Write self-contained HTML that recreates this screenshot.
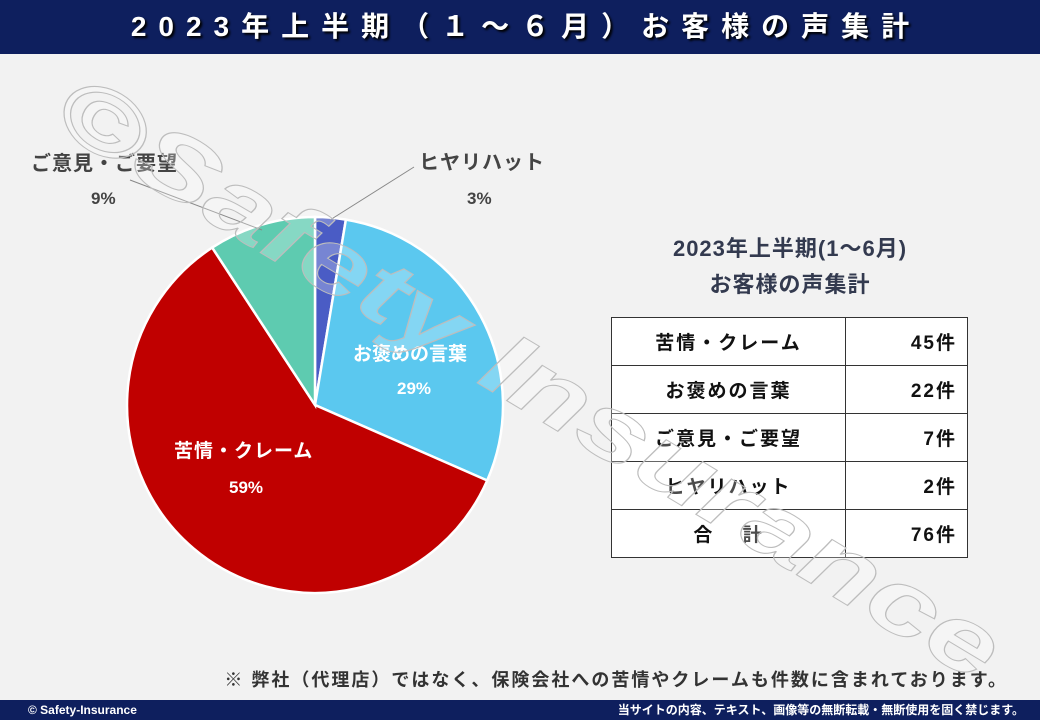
<!DOCTYPE html>
<html><head><meta charset="utf-8"><style>
html,body{margin:0;padding:0}
body{width:1040px;height:720px;background:#f2f2f2;position:relative;overflow:hidden;font-family:"Liberation Sans","Noto Sans CJK JP",sans-serif}
.hdr{position:absolute;left:0;top:0;width:1040px;height:54px;background:#0e1f5e;color:#fff;font-weight:bold;font-size:28px;letter-spacing:12px;text-indent:12px;text-align:center;line-height:54px;text-shadow:2px 2px 2px #000}
.ftr{position:absolute;left:0;top:700px;width:1040px;height:20px;background:#0e1f5e;color:#fff;font-weight:bold;font-size:12px;line-height:20px}
.t{position:absolute;font-weight:bold;white-space:nowrap}
table{position:absolute;left:611px;top:317px;border-collapse:collapse;background:#fff}
td{border:1.5px solid #333;height:47px;font-weight:bold;font-size:19px;color:#111;padding:0;letter-spacing:2px}
td.a{width:233px;text-align:center}
td.b{width:122px;text-align:right;padding-right:10px;box-sizing:border-box}
</style></head><body>
<div class="hdr">2023年上半期（１～６月）お客様の声集計</div>
<svg width="1040" height="720" style="position:absolute;left:0;top:0">
<g stroke="#fff" stroke-width="2.5">
<path d="M315,405 L315,217 A188,188 0 0 1 345.9,219.6 Z" fill="#4a5cc5"/>
<path d="M315,405 L345.9,219.6 A188,188 0 0 1 487.2,480.5 Z" fill="#5bc8ef"/>
<path d="M315,405 L487.2,480.5 A188,188 0 1 1 212.2,247.6 Z" fill="#c00000"/>
<path d="M315,405 L212.2,247.6 A188,188 0 0 1 315,217 Z" fill="#5ecbb0"/>
</g>
<line x1="130" y1="180" x2="262" y2="230" stroke="#888" stroke-width="1"/>
<line x1="414" y1="167" x2="330" y2="220" stroke="#888" stroke-width="1"/>
</svg>
<div class="t" style="left:31px;top:147px;font-size:20px;letter-spacing:1px;color:#444">ご意見・ご要望</div>
<div class="t" style="left:91px;top:189px;font-size:17px;color:#444">9%</div>
<div class="t" style="left:419px;top:146px;font-size:20px;letter-spacing:1px;color:#444">ヒヤリハット</div>
<div class="t" style="left:467px;top:189px;font-size:17px;color:#444">3%</div>
<div class="t" style="left:353px;top:339px;font-size:19px;color:#fff">お褒めの言葉</div>
<div class="t" style="left:397px;top:379px;font-size:17px;color:#fff">29%</div>
<div class="t" style="left:174px;top:436px;font-size:19px;letter-spacing:1px;color:#fff">苦情・クレーム</div>
<div class="t" style="left:229px;top:478px;font-size:17px;color:#fff">59%</div>
<div class="t" style="left:610px;top:231px;width:360px;text-align:center;font-size:22px;letter-spacing:1px;color:#333a4f;line-height:36px">2023年上半期(1～6月)<br>お客様の声集計</div>
<table>
<tr><td class="a">苦情・クレーム</td><td class="b">45件</td></tr>
<tr><td class="a">お褒めの言葉</td><td class="b">22件</td></tr>
<tr><td class="a">ご意見・ご要望</td><td class="b">7件</td></tr>
<tr><td class="a">ヒヤリハット</td><td class="b">2件</td></tr>
<tr><td class="a">合　 計</td><td class="b">76件</td></tr>
</table>
<div class="t" style="right:32px;top:666px;font-size:18px;letter-spacing:2px;color:#333">※ 弊社（代理店）ではなく、保険会社への苦情やクレームも件数に含まれております。</div>
<svg width="1040" height="720" style="position:absolute;left:0;top:0">
<text x="0" y="0" transform="translate(48,125) rotate(31)" font-family="Liberation Sans, sans-serif" font-weight="bold" font-style="italic" font-size="92" fill="rgba(255,255,255,0.25)" stroke="#bdbdbd" stroke-width="1" textLength="1085" lengthAdjust="spacingAndGlyphs">©Safety Insurance</text>
</svg>
<div class="ftr"><span style="position:absolute;left:28px">© Safety-Insurance</span><span style="position:absolute;right:16px">当サイトの内容、テキスト、画像等の無断転載・無断使用を固く禁じます。</span></div>
</body></html>
